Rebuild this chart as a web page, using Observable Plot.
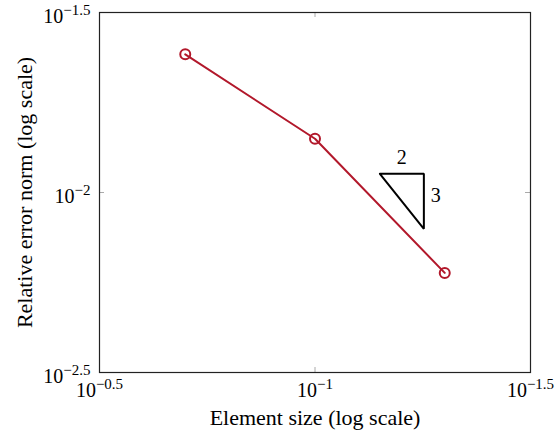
<!DOCTYPE html>
<html><head><meta charset="utf-8">
<script src="https://cdn.jsdelivr.net/npm/d3@7"></script>
<script src="https://cdn.jsdelivr.net/npm/@observablehq/plot@0.6"></script>
<style>body{margin:0;background:#fff}</style>
</head><body><div id="chart"></div>
<script>
// Data
const elementSize = [0.2, 0.1, 0.05];
const errorNorm = [0.0242, 0.0141, 0.00598];
// Ticks
const xTicks = [10 ** -0.5, 10 ** -1, 10 ** -1.5];
const xTickLabels = ["10^−0.5", "10^−1", "10^−1.5"];
const yTicks = [10 ** -2.5, 10 ** -2, 10 ** -1.5];
const yTickLabels = ["10^−2.5", "10^−2", "10^−1.5"];
// Slope triangle
const triangleX = [0.0707, 0.0559, 0.0559, 0.0707];
const triangleY = [0.01127, 0.01127, 0.00793, 0.01127];
const slopeLabels = ["2", "3"];
const slopeLabelX = [0.0629, 0.0559];
const slopeLabelY = [0.01127, 0.00945];

const red = "#b2182b";
const data = elementSize.map((x, i) => ({x, y: errorNorm[i]}));
const tri = triangleX.map((x, i) => ({x, y: triangleY[i]}));
const slopes = slopeLabels.map((t, i) => ({t, x: slopeLabelX[i], y: slopeLabelY[i]}));

const chart = Plot.plot({
  width: 556, height: 435,
  marginLeft: 99, marginRight: 26, marginTop: 12, marginBottom: 63,
  style: {fontFamily: "'Liberation Serif', 'Times New Roman', serif", fontSize: "20px", background: "#fff", color: "#000"},
  x: {type: "log", domain: [10 ** -0.5, 10 ** -1.5]},
  y: {type: "log", domain: [10 ** -2.5, 10 ** -1.5]},
  marks: [
    Plot.ruleX(xTicks, {insetTop: 355, stroke: "#aaa"}),
    Plot.ruleX(xTicks, {insetBottom: 355, stroke: "#aaa"}),
    Plot.ruleY(yTicks, {insetRight: 426, stroke: "#aaa"}),
    Plot.ruleY(yTicks, {insetLeft: 426, stroke: "#aaa"}),
    Plot.frame({stroke: "#222", strokeWidth: 1.2}),
    Plot.axisX(xTicks, {tickSize: 0, tickPadding: 10, label: null, fontSize: 20,
      tickFormat: d => xTickLabels[xTicks.indexOf(d)]}),
    Plot.axisY(yTicks, {tickSize: 0, tickPadding: 9, dy: 4, label: null, fontSize: 20,
      tickFormat: d => yTickLabels[yTicks.indexOf(d)]}),
    Plot.text(["Element size (log scale)"], {frameAnchor: "bottom", textAnchor: "middle", lineAnchor: "middle", dy: 45, fontSize: 22}),
    Plot.text(["Relative error norm (log scale)"], {frameAnchor: "left", textAnchor: "middle", lineAnchor: "middle", rotate: -90, dx: -75, fontSize: 22}),
    Plot.line(data, {x: "x", y: "y", stroke: red, strokeWidth: 2}),
    Plot.dot(data, {x: "x", y: "y", r: 5, stroke: red, strokeWidth: 2, fill: "none"}),
    Plot.line(tri, {x: "x", y: "y", stroke: "#000", strokeWidth: 2, strokeLinejoin: "miter"}),
    Plot.text(slopes.slice(0, 1), {x: "x", y: "y", text: "t", dy: -16, fontSize: 20}),
    Plot.text(slopes.slice(1), {x: "x", y: "y", text: "t", dx: 12, dy: -6, fontSize: 20})
  ]
});

// superscript rendering for tick labels like 10^−1.5
chart.querySelectorAll("text").forEach(t => {
  const s = t.textContent;
  if (s.includes("^")) {
    const [base, exp] = s.split("^");
    t.textContent = "";
    const b = document.createElementNS("http://www.w3.org/2000/svg", "tspan");
    b.textContent = base;
    const e = document.createElementNS("http://www.w3.org/2000/svg", "tspan");
    e.textContent = exp;
    e.setAttribute("dy", "-0.5em");
    e.setAttribute("font-size", "15px");
    t.appendChild(b);
    t.appendChild(e);
  }
});
document.getElementById("chart").appendChild(chart);
</script>
</body></html>
